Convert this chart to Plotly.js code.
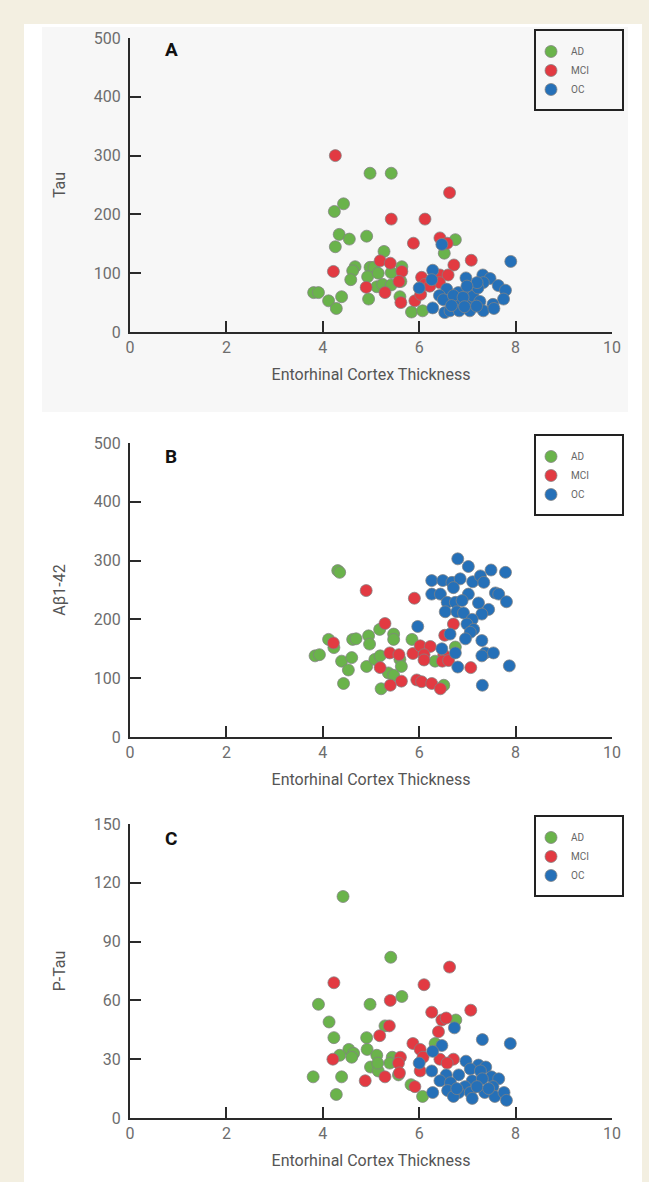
<!DOCTYPE html>
<html>
<head>
<meta charset="utf-8">
<script src="https://cdn.plot.ly/plotly-3.0.1.min.js"></script>
<style>html,body{margin:0;padding:0;background:#f3efe1;}</style>
</head>
<body>
<div id="chart" style="width:649px;height:1182px;"></div>
<script>
// ---------------- data ----------------
const groups = ["AD", "MCI", "OC"];
const groupColors = ["#6ab34b", "#e23a42", "#2570b8"];
const xTitle = "Entorhinal Cortex Thickness";
const yTitles = ["Tau", "A\u03b21-42", "P-Tau"];
const panelLetters = ["A", "B", "C"];
const yRanges = [[0, 500], [0, 500], [0, 150]];
const yTickVals = [[0, 100, 200, 300, 400, 500], [0, 100, 200, 300, 400, 500], [0, 30, 60, 90, 120, 150]];
const xTickVals = [0, 2, 4, 6, 8, 10];

// Panel A : Tau
const tauAD_x = [4.98,5.42,4.43,4.24,4.34,4.55,4.91,4.26,5.27,6.75,6.52,4.67,4.62,4.58,4.98,5.06,5.42,5.64,4.93,4.95,3.81,3.91,4.12,4.28,4.39,5.12,5.24,5.42,5.60,5.84,6.07,5.62,5.15];
const tauAD_y = [270,270,218,205,166,158,163,145,137,157,134,111,104,89,110,110,101,111,94,56,67,67,53,40,60,77,81,80,60,34,36,86,100];
const tauMCI_x = [4.26,5.42,6.12,6.63,5.88,6.43,6.58,7.08,6.72,4.22,5.19,5.40,5.64,5.58,4.90,5.29,5.62,5.91,6.03,6.05,6.12,6.43,6.60,6.42,6.22];
const tauMCI_y = [300,192,192,237,151,160,151,122,114,103,121,117,103,86,76,67,50,53,64,93,81,97,97,84,78];
const tauOC_x = [6.47,7.90,6.28,6.26,6.00,6.97,7.32,7.47,7.33,7.64,7.79,7.75,6.57,6.42,6.50,6.28,6.53,6.64,6.81,6.83,6.83,7.02,7.05,7.04,7.12,7.22,7.26,7.33,7.53,7.55,6.71,6.91,7.19,6.67,6.94,7.20,6.99];
const tauOC_y = [149,120,105,89,75,92,97,91,84,79,71,56,73,62,55,41,33,36,67,53,36,47,36,71,61,75,52,36,47,40,62,59,44,45,43,84,78];

// Panel B : Abeta1-42
const abAD_x = [4.31,4.35,4.12,4.23,4.62,4.69,4.95,5.18,5.47,5.47,4.97,5.85,3.84,3.93,4.39,4.60,4.53,4.91,5.08,5.19,5.60,5.63,5.36,5.47,4.43,5.21,6.51,6.33,6.75];
const abAD_y = [283,280,166,152,166,167,172,183,175,166,158,166,138,140,129,135,114,120,132,138,132,120,109,105,91,82,88,129,153];
const abMCI_x = [4.90,5.90,6.71,5.29,6.53,4.22,5.39,5.58,5.87,6.02,6.23,6.10,6.10,6.51,6.48,6.61,5.19,7.07,5.63,5.40,5.95,6.05,6.26,6.44];
const abMCI_y = [249,236,192,193,173,160,143,140,142,155,154,140,131,140,129,130,118,118,95,88,97,94,91,82];
const abOC_x = [6.80,7.02,7.49,7.79,6.26,6.49,6.68,6.85,7.11,7.27,7.34,6.26,6.44,6.71,7.02,7.58,7.65,7.81,6.58,6.75,6.89,7.23,7.44,6.54,6.78,6.92,7.30,7.10,6.99,7.13,7.06,5.97,6.64,6.96,7.30,6.47,6.75,7.37,7.54,7.30,6.80,7.87,7.31];
const abOC_y = [303,290,284,280,266,266,263,269,264,274,263,243,243,254,243,245,243,230,229,229,232,228,217,213,213,211,209,200,192,183,178,188,175,167,164,150,143,143,143,138,119,121,88];

// Panel C : P-Tau
const ptAD_x = [4.42,5.41,5.64,3.91,4.98,4.13,4.23,6.76,5.29,4.91,6.33,4.92,4.54,4.35,4.64,4.60,5.12,5.44,4.99,5.15,5.39,5.57,3.80,4.39,4.28,5.83,6.07,5.14];
const ptAD_y = [113,82,62,58,58,49,41,50,47,41,38,35,35,32,33,31,32,31,26,24,28,22,21,21,12,17,11,28];
const ptMCI_x = [4.23,6.63,6.10,5.40,7.07,6.26,6.47,6.56,6.40,5.38,5.18,5.87,6.02,6.08,6.43,6.71,6.58,5.61,5.57,4.21,5.59,5.29,4.88,6.02,5.91];
const ptMCI_y = [69,77,68,60,55,54,50,51,44,47,42,38,35,31,30,30,28,31,28,30,23,21,19,24,16];
const ptOC_x = [7.89,7.31,6.73,6.47,6.28,6.00,6.26,6.97,7.23,7.38,7.06,7.27,6.56,6.82,7.50,7.65,6.43,6.65,7.10,7.31,6.95,7.53,6.59,6.82,7.06,6.28,7.36,7.57,7.76,7.81,6.71,7.10,7.20,6.78,7.44];
const ptOC_y = [38,40,46,37,34,28,24,29,27,26,25,24,22,22,21,20,19,18,19,20,16,16,14,13,13,13,13,11,13,9,11,10,16,15,15];

const panelData = [
  [[tauAD_x, tauAD_y], [tauMCI_x, tauMCI_y], [tauOC_x, tauOC_y]],
  [[abAD_x, abAD_y], [abMCI_x, abMCI_y], [abOC_x, abOC_y]],
  [[ptAD_x, ptAD_y], [ptMCI_x, ptMCI_y], [ptOC_x, ptOC_y]]
];

// ---------------- layout helpers (pixel -> paper) ----------------
const W = 649, H = 1182;
const px = X => X / W;
const py = Y => 1 - Y / H;

const plotLeft = 130, plotRight = 612;
const axisTop = [38, 443, 824];
const axisBottom = [332, 737, 1118];
const legendTop = [30, 435, 816];
const letterY = [50, 456, 838];

const traces = [];
const layout = {
  width: W, height: H,
  margin: {l: 0, r: 0, t: 0, b: 0},
  paper_bgcolor: "#f3efe1",
  plot_bgcolor: "rgba(0,0,0,0)",
  font: {family: "Roboto, 'Open Sans', sans-serif", color: "#6d6d6d"},
  showlegend: true,
  shapes: [
    {type: "rect", xref: "paper", yref: "paper", x0: px(24), x1: px(642), y0: 0, y1: py(24),
     fillcolor: "#ffffff", line: {width: 0}, layer: "below"},
    {type: "rect", xref: "paper", yref: "paper", x0: px(42), x1: px(628), y0: py(412), y1: py(27),
     fillcolor: "#f7f7f7", line: {width: 0}, layer: "below"}
  ],
  annotations: []
};

for (let p = 0; p < 3; p++) {
  const sfx = p === 0 ? "" : String(p + 1);
  const legName = "legend" + sfx;
  for (let g = 0; g < 3; g++) {
    traces.push({
      type: "scatter", mode: "markers",
      x: panelData[p][g][0], y: panelData[p][g][1],
      name: groups[g],
      xaxis: "x" + sfx, yaxis: "y" + sfx,
      legend: legName,
      cliponaxis: false,
      marker: {color: groupColors[g], size: 12, line: {color: "rgba(130,130,130,0.75)", width: 1}}
    });
  }
  layout["xaxis" + sfx] = {
    domain: [px(plotLeft), px(plotRight)],
    anchor: "y" + sfx,
    range: [0, 10], tickvals: xTickVals,
    showgrid: false, zeroline: false,
    showline: true, linecolor: "#2a2a2a", linewidth: 2,
    ticks: "inside", ticklen: 11, tickwidth: 2, tickcolor: "#2a2a2a",
    tickfont: {size: 16, color: "#6d6d6d"},
    title: {text: xTitle, font: {size: 16, color: "#555"}, standoff: 13},
    automargin: false, fixedrange: true
  };
  layout["yaxis" + sfx] = {
    domain: [py(axisBottom[p]), py(axisTop[p])],
    anchor: "x" + sfx,
    range: yRanges[p], tickvals: yTickVals[p],
    showgrid: false, zeroline: false,
    showline: true, linecolor: "#2a2a2a", linewidth: 2,
    ticks: "inside", ticklen: 11, tickwidth: 2, tickcolor: "#2a2a2a",
    tickfont: {size: 16, color: "#6d6d6d"},
    ticklabelstandoff: 4,
    title: {text: yTitles[p], font: {size: 16, color: "#555"}, standoff: 24},
    automargin: false, fixedrange: true
  };
  layout[legName] = {
    x: px(531), y: py(legendTop[p] + 7), xanchor: "left", yanchor: "top",
    bgcolor: "rgba(0,0,0,0)", borderwidth: 0,
    font: {size: 10, color: "#666"},
    itemwidth: 30, tracegroupgap: 0
  };
  layout.shapes.push({
    type: "rect", xref: "paper", yref: "paper",
    x0: px(535), x1: px(623), y0: py(legendTop[p] + 80), y1: py(legendTop[p]),
    fillcolor: "rgba(0,0,0,0)", line: {color: "#222", width: 2}
  });
  layout.annotations.push({
    xref: "paper", yref: "paper", x: px(171), y: py(letterY[p]),
    xanchor: "center", yanchor: "middle", showarrow: false,
    text: "<b>" + panelLetters[p] + "</b>",
    font: {size: 19, color: "#111", family: "Roboto, sans-serif"}
  });
}

Plotly.newPlot("chart", traces, layout, {staticPlot: true, displayModeBar: false});
</script>
</body>
</html>
